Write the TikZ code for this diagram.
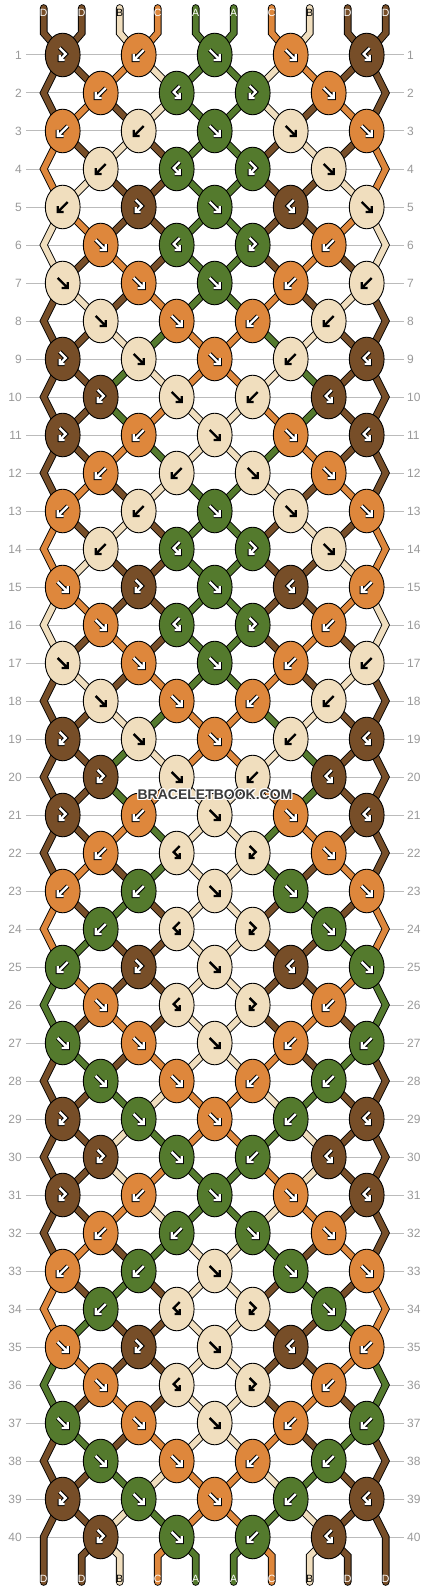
\documentclass[tikz,border=0pt]{standalone}
\usepackage{fontspec}
\setmainfont{Liberation Sans}
\usetikzlibrary{shapes.geometric}
\definecolor{colD}{HTML}{774E28}
\definecolor{colC}{HTML}{DE873C}
\definecolor{colA}{HTML}{547A2D}
\definecolor{colB}{HTML}{F0DEBE}
\definecolor{gridgray}{HTML}{BBBBBB}
\definecolor{numgray}{HTML}{999999}
\definecolor{wmgray}{HTML}{3A3A3A}
\tikzset{
  str/.style={draw=black,line width=0.9pt,double=#1,double distance=5.8pt},
  knot/.style={ellipse,draw=black,line width=0.9pt,minimum width=34.8pt,minimum height=43.6pt,inner sep=0pt},
  rownum/.style={text=numgray,font=\fontsize{12}{14}\selectfont,inner sep=0pt},
  lab/.style={font=\fontsize{10.5}{12}\selectfont,inner sep=0pt},
  wm/.style={font=\fontsize{14}{16}\selectfont\bfseries,inner sep=0pt},
}
\newcommand\bbKX[2]{%
  \pgfmathtruncatemacro\tmpr{#1}%
  \pgfmathtruncatemacro\tmpp{#2}%
  \ifodd\tmpr\relax
    \ifodd\tmpp\relax \edef\ki{\tmpp}\else \pgfmathtruncatemacro\ki{\tmpp-1}\fi
  \else
    \ifodd\tmpp\relax \pgfmathtruncatemacro\ki{\tmpp-1}\else \edef\ki{\tmpp}\fi
  \fi
  \pgfmathsetmacro\kx{24.7+38*\ki}%
  \pgfmathsetmacro\ky{55+38*(\tmpr-1)}%
}
\newcommand\bbedge[3]{%
  \ifodd#1\relax\else
    \pgfmathtruncatemacro\rp{#1-1}%
    \bbKX{\rp}{#2}\let\ax\kx\let\ay\ky
    \pgfmathsetmacro\ey{55+38*(#1-1)}%
    \ifnum#1=40\relax
      \draw[str=col#3,line cap=round] (\ax,\ay) -- (\px,\ey) -- (\px,1582);
    \else
      \pgfmathtruncatemacro\rn{#1+1}%
      \bbKX{\rn}{#2}%
      \draw[str=col#3] (\ax,\ay) -- (\px,\ey) -- (\kx,\ky);
    \fi
  \fi}
\newcommand\bbseg[3]{%
  \pgfmathsetmacro\px{5.7+38*#2}%
  \ifnum#1=1\relax
    \bbKX{1}{#2}%
    \draw[str=col#3,line cap=round] (\px,8) -- (\px,33) -- (\kx,\ky);
  \else\ifnum#1=41\relax
    \ifnum#2=1\relax\else\ifnum#2=10\relax\else
      \bbKX{40}{#2}%
      \draw[str=col#3,line cap=round] (\kx,\ky) -- (\px,1556) -- (\px,1582);
    \fi\fi
  \else
    \ifnum#2=1\relax \bbedge{#1}{#2}{#3}%
    \else\ifnum#2=10\relax \bbedge{#1}{#2}{#3}%
    \else
      \pgfmathtruncatemacro\rp{#1-1}%
      \bbKX{\rp}{#2}\let\ax\kx\let\ay\ky
      \bbKX{#1}{#2}%
      \draw[str=col#3] (\ax,\ay) -- (\kx,\ky);
    \fi\fi
  \fi\fi}
\newcommand\bbstrow[2]{%
  \foreach \c [count=\p] in {#2} {%
    \expandafter\xdef\csname st-#1-\p\endcsname{\c}%
    \bbseg{#1}{\p}{\c}%
  }}
\newcommand\glyphW[1]{\draw[black,line width=4.4pt] #1; \draw[white,line width=2.4pt] #1;}
\newcommand\glyphB[1]{\draw[black,line width=2.4pt] #1;}
\newcommand\bbknotrow[2]{%
  \pgfmathsetmacro\kyy{55+38*(#1-1)}%
  \foreach \gl [count=\k] in {#2} {%
    \ifodd#1\relax\pgfmathtruncatemacro\ki{2*\k-1}\else\pgfmathtruncatemacro\ki{2*\k}\fi
    \pgfmathtruncatemacro\kj{\ki+1}%
    \pgfmathsetmacro\kxx{24.7+38*\ki}%
    \if\gl f\edef\kc{\csname st-#1-\ki\endcsname}\def\gp{(-5,-5) -- (5,5) (5,-1) -- (5,5) -- (-1,5)}\fi
    \if\gl b\edef\kc{\csname st-#1-\kj\endcsname}\def\gp{(5,-5) -- (-5,5) (-5,-1) -- (-5,5) -- (1,5)}\fi
    \if\gl p\edef\kc{\csname st-#1-\ki\endcsname}\def\gp{(-3,-7) -- (3,-1) -- (-3,5) (-3,0) -- (-3,5) -- (2,5)}\fi
    \if\gl q\edef\kc{\csname st-#1-\kj\endcsname}\def\gp{(3,-7) -- (-3,-1) -- (3,5) (3,0) -- (3,5) -- (-2,5)}\fi
    \node[knot,fill=col\kc] (k-#1-\k) at (\kxx,\kyy) {};
    \begin{scope}[shift={(\kxx,\kyy)}]
      \if B\kc \expandafter\glyphB\expandafter{\gp}\else\expandafter\glyphW\expandafter{\gp}\fi
    \end{scope}
  }}
\begin{document}
\begin{tikzpicture}[x=1pt,y=-1pt]
\useasboundingbox (0,0) rectangle (430,1592);
\fill[white] (0,0) rectangle (430,1592);
% row guide lines and numbers
\foreach \r in {1,...,40} {
  \pgfmathsetmacro\yy{55+38*(\r-1)}
  \draw[gridgray,line width=1pt] (26,\yy) -- (404,\yy);
  \node[rownum,anchor=east] (nl\r) at (22,\yy) {\r};
  \node[rownum,anchor=west] (nr\r) at (407,\yy) {\r};
}
% strings
\bbstrow{1}{D,D,B,C,A,A,C,B,D,D}
\bbstrow{2}{D,D,C,B,A,A,B,C,D,D}
\bbstrow{3}{D,C,D,B,A,A,B,D,C,D}
\bbstrow{4}{C,D,B,D,A,A,D,B,D,C}
\bbstrow{5}{C,B,D,D,A,A,D,D,B,C}
\bbstrow{6}{B,C,D,D,A,A,D,D,C,B}
\bbstrow{7}{B,D,C,D,A,A,D,C,D,B}
\bbstrow{8}{D,B,D,C,A,A,C,D,B,D}
\bbstrow{9}{D,D,B,A,C,C,A,B,D,D}
\bbstrow{10}{D,D,A,B,C,C,B,A,D,D}
\bbstrow{11}{D,D,A,C,B,B,C,A,D,D}
\bbstrow{12}{D,D,C,A,B,B,A,C,D,D}
\bbstrow{13}{D,C,D,B,A,A,B,D,C,D}
\bbstrow{14}{C,D,B,D,A,A,D,B,D,C}
\bbstrow{15}{C,B,D,D,A,A,D,D,B,C}
\bbstrow{16}{B,C,D,D,A,A,D,D,C,B}
\bbstrow{17}{B,D,C,D,A,A,D,C,D,B}
\bbstrow{18}{D,B,D,C,A,A,C,D,B,D}
\bbstrow{19}{D,D,B,A,C,C,A,B,D,D}
\bbstrow{20}{D,D,A,B,C,C,B,A,D,D}
\bbstrow{21}{D,D,A,C,B,B,C,A,D,D}
\bbstrow{22}{D,D,C,A,B,B,A,C,D,D}
\bbstrow{23}{D,C,D,A,B,B,A,D,C,D}
\bbstrow{24}{C,D,A,D,B,B,D,A,D,C}
\bbstrow{25}{C,A,D,D,B,B,D,D,A,C}
\bbstrow{26}{A,C,D,D,B,B,D,D,C,A}
\bbstrow{27}{A,D,C,D,B,B,D,C,D,A}
\bbstrow{28}{D,A,D,C,B,B,C,D,A,D}
\bbstrow{29}{D,D,A,B,C,C,B,A,D,D}
\bbstrow{30}{D,D,B,A,C,C,A,B,D,D}
\bbstrow{31}{D,D,B,C,A,A,C,B,D,D}
\bbstrow{32}{D,D,C,B,A,A,B,C,D,D}
\bbstrow{33}{D,C,D,A,B,B,A,D,C,D}
\bbstrow{34}{C,D,A,D,B,B,D,A,D,C}
\bbstrow{35}{C,A,D,D,B,B,D,D,A,C}
\bbstrow{36}{A,C,D,D,B,B,D,D,C,A}
\bbstrow{37}{A,D,C,D,B,B,D,C,D,A}
\bbstrow{38}{D,A,D,C,B,B,C,D,A,D}
\bbstrow{39}{D,D,A,B,C,C,B,A,D,D}
\bbstrow{40}{D,D,B,A,C,C,A,B,D,D}
\bbstrow{41}{D,D,B,C,A,A,C,B,D,D}
% knots
\bbknotrow{1}{p,b,f,f,q}
\bbknotrow{2}{b,q,p,f}
\bbknotrow{3}{b,b,f,f,f}
\bbknotrow{4}{b,q,p,f}
\bbknotrow{5}{b,p,f,q,f}
\bbknotrow{6}{f,q,p,b}
\bbknotrow{7}{f,f,f,b,b}
\bbknotrow{8}{f,f,b,b}
\bbknotrow{9}{p,f,f,b,q}
\bbknotrow{10}{p,f,b,q}
\bbknotrow{11}{p,b,f,f,q}
\bbknotrow{12}{b,b,f,f}
\bbknotrow{13}{b,b,f,f,f}
\bbknotrow{14}{b,q,p,f}
\bbknotrow{15}{f,p,f,q,b}
\bbknotrow{16}{f,q,p,b}
\bbknotrow{17}{f,f,f,b,b}
\bbknotrow{18}{f,f,b,b}
\bbknotrow{19}{p,f,f,b,q}
\bbknotrow{20}{p,f,b,q}
\bbknotrow{21}{p,b,f,f,q}
\bbknotrow{22}{b,q,p,f}
\bbknotrow{23}{b,b,f,f,f}
\bbknotrow{24}{b,q,p,f}
\bbknotrow{25}{b,p,f,q,f}
\bbknotrow{26}{f,q,p,b}
\bbknotrow{27}{f,f,f,b,b}
\bbknotrow{28}{f,f,b,b}
\bbknotrow{29}{p,f,f,b,q}
\bbknotrow{30}{p,f,b,q}
\bbknotrow{31}{p,b,f,f,q}
\bbknotrow{32}{b,b,f,f}
\bbknotrow{33}{b,b,f,f,f}
\bbknotrow{34}{b,q,p,f}
\bbknotrow{35}{f,p,f,q,b}
\bbknotrow{36}{f,q,p,b}
\bbknotrow{37}{f,f,f,b,b}
\bbknotrow{38}{f,f,b,b}
\bbknotrow{39}{p,f,f,b,q}
\bbknotrow{40}{p,f,b,q}
% string labels
\foreach \c [count=\p] in {D,D,B,C,A,A,C,B,D,D} {
  \pgfmathsetmacro\px{5.7+38*\p}
  \if B\c \def\lc{black}\else\def\lc{white}\fi
  \node[lab,text=\lc] (top\p) at (\px,12.5) {\c};
  \node[lab,text=\lc] (bot\p) at (\px,1579) {\c};
}
% watermark
\foreach \dx/\dy [count=\n] in {-1/-1,0/-1,1/-1,-1/0,1/0,-1/1,0/1,1/1} {
  \node[wm,text=white] (wmh\n) at (215+\dx,795+\dy) {BRACELETBOOK.COM};
}
\node[wm,text=wmgray] (wm) at (215,795) {BRACELETBOOK.COM};
\end{tikzpicture}
\end{document}
